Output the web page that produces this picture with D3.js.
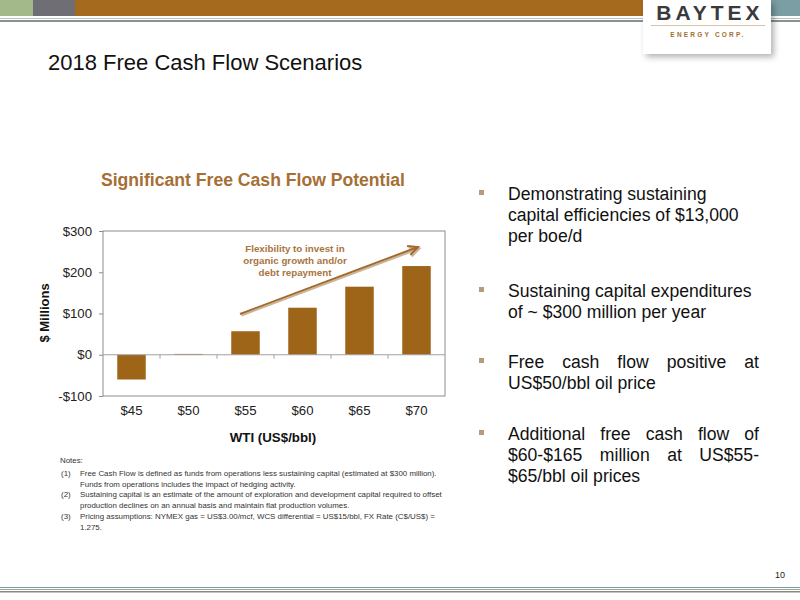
<!DOCTYPE html>
<html><head><meta charset="utf-8">
<script src="https://cdn.jsdelivr.net/npm/d3@7/dist/d3.min.js"></script>
<style>body{margin:0;background:#fff}svg{display:block;font-family:"Liberation Sans",Arial,sans-serif}</style>
</head><body><svg id="c" width="800" height="600"></svg>
<script>
const categories = ["$45","$50","$55","$60","$65","$70"];
const values = [-60, 2, 57, 114, 165, 215];
const yTicks = [-100, 0, 100, 200, 300];
const bullets = [
  {lines:["Demonstrating sustaining","capital efficiencies of $13,000","per boe/d"], justify:false},
  {lines:["Sustaining capital expenditures","of ~ $300 million per year"], justify:false},
  {lines:["Free cash flow positive at","US$50/bbl oil price"], justify:true},
  {lines:["Additional free cash flow of","$60-$165 million at US$55-","$65/bbl oil prices"], justify:true}
];
const notes = [
  {n:"(1)", lines:["Free Cash Flow is defined as funds from operations less sustaining capital (estimated at $300 million).","Funds from operations includes the impact of hedging activity."]},
  {n:"(2)", lines:["Sustaining capital is an estimate of the amount of exploration and development capital required to offset","production declines on an annual basis and maintain flat production volumes."]},
  {n:"(3)", lines:["Pricing assumptions:  NYMEX gas = US$3.00/mcf, WCS differential = US$15/bbl, FX Rate (C$/US$) =","1.275."]}
];
const annotation = ["Flexibility to invest in","organic growth and/or","debt repayment"];

const svg = d3.select("#c");
const BROWN = "#9e6418";

// header
const header = [[0,33,"#a4b98a"],[33,75,"#6e6e74"],[75,645,"#a66a1e"],[770,800,"#7a9ea4"]];
svg.selectAll("rect.hb").data(header).join("rect").attr("x",d=>d[0]).attr("y",0).attr("width",d=>d[1]-d[0]).attr("height",16).attr("fill",d=>d[2]);
svg.append("rect").attr("x",0).attr("y",18).attr("width",800).attr("height",1).attr("fill","#b8c4c6");
svg.append("rect").attr("x",0).attr("y",20).attr("width",800).attr("height",2).attr("fill","#8a9290");
// logo box
const defs = svg.append("defs");
const f = defs.append("filter").attr("id","sh").attr("x","-10%").attr("y","-10%").attr("width","130%").attr("height","140%");
f.append("feDropShadow").attr("dx",3).attr("dy",3).attr("stdDeviation",3).attr("flood-color","#000").attr("flood-opacity",0.3);
svg.append("rect").attr("x",643).attr("y",0).attr("width",128).attr("height",54).attr("fill","#fff").attr("filter","url(#sh)");
svg.append("text").attr("x",710).attr("y",20).attr("text-anchor","middle").attr("font-size",21).attr("font-weight","bold").attr("letter-spacing",4).attr("fill","#3a3a3c").text("BAYTEX");
svg.append("rect").attr("x",651).attr("y",25).attr("width",114).attr("height",1).attr("fill","#d8c3a0");
svg.append("text").attr("x",708).attr("y",37).attr("text-anchor","middle").attr("font-size",6.5).attr("font-weight","bold").attr("letter-spacing",2.2).attr("fill","#a07030").text("ENERGY CORP.");

// title
svg.append("text").attr("x",48).attr("y",70).attr("font-size",22).attr("fill","#111").text("2018 Free Cash Flow Scenarios");

// chart
const L=103,R=445,T=231,B=396;
const x = d3.scaleBand().domain(categories).range([L,R]).paddingInner(0.5).paddingOuter(0.25);
const y = d3.scaleLinear().domain([-100,300]).range([B,T]);
svg.append("text").attr("x",253).attr("y",186).attr("text-anchor","middle").attr("font-size",17.6).attr("font-weight","bold").attr("fill","#a56f35").text("Significant Free Cash Flow Potential");
svg.append("rect").attr("x",L).attr("y",T).attr("width",R-L).attr("height",B-T).attr("fill","none").attr("stroke","#8c8c8c").attr("stroke-width",1);
svg.selectAll("rect.bar").data(values).join("rect").attr("class","bar")
  .attr("x",(d,i)=>x(categories[i])).attr("width",x.bandwidth())
  .attr("y",d=>y(Math.max(0,d))).attr("height",d=>Math.abs(y(d)-y(0))).attr("fill",BROWN);
// zero line
svg.append("line").attr("x1",L).attr("x2",R).attr("y1",y(0)).attr("y2",y(0)).attr("stroke","#a0a0a0");
const bounds = d3.range(1,6).map(i=>L+ (R-L)/6*i);
svg.selectAll("line.xt").data(bounds).join("line").attr("x1",d=>d).attr("x2",d=>d).attr("y1",y(0)).attr("y2",y(0)+4).attr("stroke","#a0a0a0");
// y axis
const ya = svg.append("g").attr("transform",`translate(${L},0)`).call(d3.axisLeft(y).tickValues(yTicks).tickSize(4).tickPadding(7).tickFormat(d=>(d<0?"-$":"$")+Math.abs(d)));
ya.select(".domain").remove();
ya.selectAll("line").attr("stroke","#8c8c8c");
ya.selectAll("text").attr("font-size",13.2).attr("fill","#222").style("font-family","Liberation Sans, Arial, sans-serif");
// x axis labels
const xa = svg.append("g").attr("transform",`translate(0,${B})`).call(d3.axisBottom(x).tickSize(0).tickPadding(10));
xa.select(".domain").remove();
xa.selectAll("text").attr("font-size",13.2).attr("fill","#222").style("font-family","Liberation Sans, Arial, sans-serif");
svg.append("text").attr("x",273).attr("y",442).attr("text-anchor","middle").attr("font-size",13.3).attr("font-weight","bold").attr("fill","#111").text("WTI (US$/bbl)");
svg.append("text").attr("transform","translate(49,313) rotate(-90)").attr("text-anchor","middle").attr("font-size",13).attr("font-weight","bold").attr("fill","#111").text("$ Millions");

// arrow
const ag = svg.append("g");
const x0=240,y0=314,x1=418,y1=247;
const ang = Math.atan2(y1-y0,x1-x0);
const hl=11, ha=0.45;
const head = [[x1-hl*Math.cos(ang-ha), y1-hl*Math.sin(ang-ha)],[x1,y1],[x1-hl*Math.cos(ang+ha), y1-hl*Math.sin(ang+ha)]];
[["#c9b59c",1.5,1.5],[ "#a36a2a",0,0]].forEach(([c,dx,dy])=>{
  ag.append("line").attr("x1",x0+dx).attr("y1",y0+dy).attr("x2",x1+dx).attr("y2",y1+dy).attr("stroke",c).attr("stroke-width",2);
  ag.append("polyline").attr("points",head.map(p=>[p[0]+dx,p[1]+dy].join(",")).join(" ")).attr("fill","none").attr("stroke",c).attr("stroke-width",2);
});
svg.selectAll("text.ann").data(annotation).join("text").attr("class","ann").attr("x",295).attr("y",(d,i)=>252+i*11.8)
  .attr("text-anchor","middle").attr("font-size",9.8).attr("font-weight","bold").attr("fill","#a8743e").text(d=>d);

// notes
const NF = 7.9;
svg.append("text").attr("x",60).attr("y",463).attr("font-size",NF).attr("fill","#333").text("Notes:");
const noteY = [476,497,519];
notes.forEach((n,i)=>{
  svg.append("text").attr("x",61).attr("y",noteY[i]).attr("font-size",NF).attr("fill","#333").text(n.n);
  n.lines.forEach((l,j)=>svg.append("text").attr("x",80).attr("y",noteY[i]+j*11).attr("font-size",NF).attr("fill","#333").text(l));
});

// bullets
const bTop = [200,297,368,440];
const bx=508, bRight=759, lh=21, BF=17.6;
bullets.forEach((b,i)=>{
  svg.append("rect").attr("x",479).attr("y",bTop[i]-10).attr("width",5).attr("height",5).attr("fill","#b89a78");
  b.lines.forEach((l,j)=>{
    const yy = bTop[i]+j*lh;
    const last = j===b.lines.length-1;
    if(b.justify && !last){
      const words = l.split(" ");
      const ts = words.map(w=>svg.append("text").attr("y",yy).attr("font-size",BF).attr("fill","#111").text(w));
      const ws = ts.map(t=>t.node().getComputedTextLength());
      const gap = (bRight-bx-d3.sum(ws))/(words.length-1);
      let cx=bx; ts.forEach((t,k)=>{t.attr("x",cx); cx+=ws[k]+gap;});
    } else {
      svg.append("text").attr("x",bx).attr("y",yy).attr("font-size",BF).attr("fill","#111").text(l);
    }
  });
});

// footer
svg.append("text").attr("x",785).attr("y",578).attr("text-anchor","end").attr("font-size",9).attr("fill","#222").text("10");
svg.append("rect").attr("x",0).attr("y",587).attr("width",800).attr("height",1).attr("fill","#7c9aa8");
svg.append("rect").attr("x",0).attr("y",589).attr("width",800).attr("height",1).attr("fill","#9aa89a");
svg.append("rect").attr("x",0).attr("y",591).attr("width",800).attr("height",1.5).attr("fill","#8a8a80");
</script></body></html>
